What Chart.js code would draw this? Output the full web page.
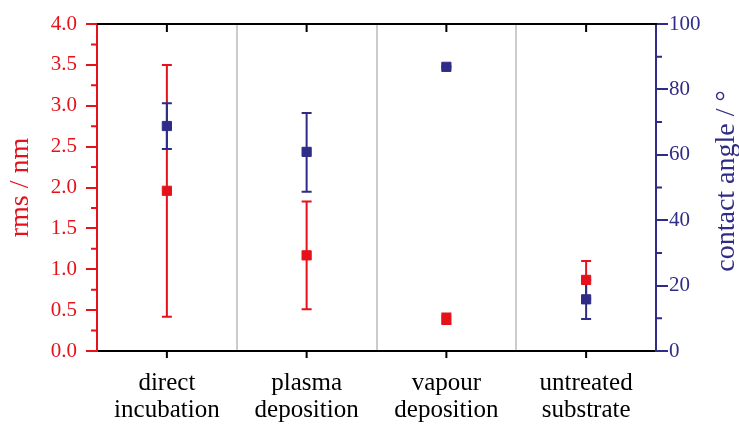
<!DOCTYPE html>
<html>
<head>
<meta charset="utf-8">
<script src="https://cdn.jsdelivr.net/npm/chart.js@4.4.1/dist/chart.umd.min.js"></script>
<style>
  html, body { margin: 0; padding: 0; background: #fff; }
</style>
</head>
<body>
<canvas id="chart" width="739" height="429"></canvas>
<script>
// data
const categories = [['direct', 'incubation'], ['plasma', 'deposition'], ['vapour', 'deposition'], ['untreated', 'substrate']];
const rmsValues = [1.96, 1.17, 0.39, 0.87];
const rmsLow = [0.42, 0.51, 0.33, 0.64];
const rmsHigh = [3.50, 1.83, 0.46, 1.10];
const angleValues = [68.8, 60.9, 86.9, 15.8];
const angleLow = [61.8, 48.7, 86.8, 9.8];
const angleHigh = [75.8, 72.8, 87.0, 21.7];

const RED = '#e5121b';
const NAVY = '#2e2c86';
const FONT = '"Liberation Serif", "DejaVu Serif", serif';

// whiskers with caps, drawn under the markers
const errorBars = {
  id: 'errorBars',
  beforeDatasetsDraw(chart) {
    const ctx = chart.ctx;
    const xs = chart.scales.x;
    chart.data.datasets.forEach(ds => {
      const ys = chart.scales[ds.yAxisID];
      ds.errLow.forEach((lo, i) => {
        const px = xs.getPixelForValue(i);
        const top = ys.getPixelForValue(ds.errHigh[i]);
        const bot = ys.getPixelForValue(lo);
        ctx.save();
        ctx.strokeStyle = ds.borderColor;
        ctx.lineWidth = 2;
        ctx.beginPath();
        ctx.moveTo(px, top); ctx.lineTo(px, bot);
        ctx.moveTo(px - 5, top); ctx.lineTo(px + 5, top);
        ctx.moveTo(px - 5, bot); ctx.lineTo(px + 5, bot);
        ctx.stroke();
        ctx.restore();
      });
    });
  }
};

// top frame, centre ticks, minor ticks and the right title
const frame = {
  id: 'frame',
  afterDraw(chart) {
    const ctx = chart.ctx;
    const { left, right, top, bottom } = chart.chartArea;
    const xs = chart.scales.x, y = chart.scales.y, y2 = chart.scales.y2;
    ctx.save();
    ctx.lineWidth = 2;
    ctx.strokeStyle = '#000';
    ctx.beginPath();
    ctx.moveTo(left, top); ctx.lineTo(right + 1, top);
    categories.forEach((c, i) => {
      const px = xs.getPixelForValue(i);
      ctx.moveTo(px, top); ctx.lineTo(px, top + 8);
      ctx.moveTo(px, bottom); ctx.lineTo(px, bottom + 7);
    });
    ctx.stroke();

    ctx.strokeStyle = RED;
    ctx.beginPath();
    for (let v = 0.25; v < 4; v += 0.5) {
      const py = y.getPixelForValue(v);
      ctx.moveTo(left - 6, py); ctx.lineTo(left, py);
    }
    ctx.stroke();

    ctx.strokeStyle = NAVY;
    ctx.beginPath();
    for (let v = 10; v < 100; v += 20) {
      const py = y2.getPixelForValue(v);
      ctx.moveTo(right, py); ctx.lineTo(right + 6, py);
    }
    ctx.stroke();

    ctx.translate(727, 181);
    ctx.rotate(-Math.PI / 2);
    ctx.fillStyle = NAVY;
    ctx.font = '28px ' + FONT;
    ctx.textAlign = 'center';
    ctx.textBaseline = 'middle';
    ctx.fillText('contact angle / °', 0, 0);
    ctx.restore();
  }
};

new Chart(document.getElementById('chart'), {
  type: 'line',
  data: {
    labels: categories,
    datasets: [
      {
        label: 'rms',
        data: rmsValues,
        errLow: rmsLow,
        errHigh: rmsHigh,
        yAxisID: 'y',
        showLine: false,
        pointStyle: 'rect',
        pointRadius: 6.5,
        borderWidth: 1,
        borderColor: RED,
        backgroundColor: RED
      },
      {
        label: 'contact angle',
        data: angleValues,
        errLow: angleLow,
        errHigh: angleHigh,
        yAxisID: 'y2',
        showLine: false,
        pointStyle: 'rect',
        pointRadius: 6.5,
        borderWidth: 1,
        borderColor: NAVY,
        backgroundColor: NAVY
      }
    ]
  },
  options: {
    responsive: false,
    animation: false,
    events: [],
    layout: { padding: { top: 24, left: 0, right: 0, bottom: 0 } },
    plugins: {
      legend: { display: false },
      tooltip: { enabled: false }
    },
    scales: {
      x: {
        type: 'category',
        offset: true,
        grid: { offset: true, color: '#cccccc', lineWidth: 2, drawTicks: false },
        border: { color: '#000', width: 2 },
        ticks: {
          color: '#000',
          padding: 19,
          maxRotation: 0,
          autoSkip: false,
          font: { family: FONT, size: 25, lineHeight: 1.08 }
        },
        afterFit(scale) { scale.height = 78; }
      },
      y: {
        position: 'left',
        min: 0,
        max: 4,
        grid: { drawOnChartArea: false, color: RED, tickLength: 11, lineWidth: 2 },
        border: { color: RED, width: 2 },
        ticks: {
          stepSize: 0.5,
          color: RED,
          padding: 9,
          font: { family: FONT, size: 21 },
          callback: v => v.toFixed(1)
        },
        title: {
          display: true,
          text: 'rms / nm',
          color: RED,
          padding: { top: 4, bottom: 0 },
          font: { family: FONT, size: 28 }
        },
        afterFit(scale) { scale.width = 97; }
      },
      y2: {
        position: 'right',
        min: 0,
        max: 100,
        grid: { drawOnChartArea: false, color: NAVY, tickLength: 12, lineWidth: 2 },
        border: { color: NAVY, width: 2 },
        ticks: {
          stepSize: 20,
          color: NAVY,
          padding: 1,
          font: { family: FONT, size: 21 }
        },
        afterFit(scale) { scale.width = 83; }
      }
    }
  },
  plugins: [errorBars, frame]
});
</script>
</body>
</html>
